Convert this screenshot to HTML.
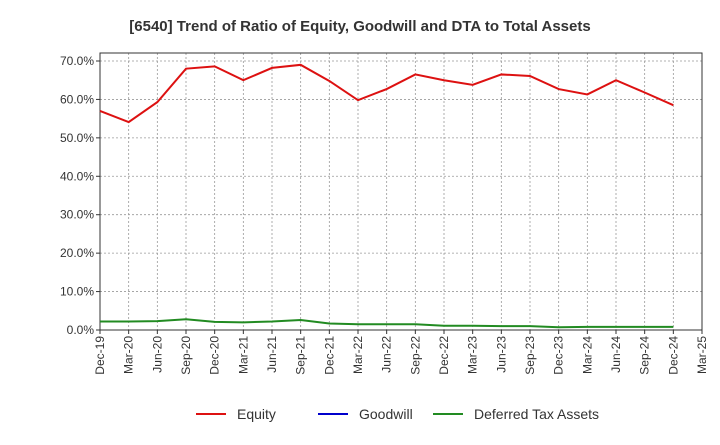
<!DOCTYPE html>
<html><head><meta charset="utf-8"><style>
body{margin:0;background:#fff;font-family:"Liberation Sans",Arial,sans-serif}
svg text{font-family:"Liberation Sans",Arial,sans-serif}
</style></head><body>
<svg id="chart" width="720" height="440" xmlns="http://www.w3.org/2000/svg">
<text x="360" y="31" text-anchor="middle" font-size="15" font-weight="bold" fill="#333">[6540]  Trend of Ratio of Equity, Goodwill and DTA to Total Assets</text>
<g id="grid"></g>
<g id="axes"></g>
<g id="series"></g>
<g id="legend"></g>
</svg>
<script>
const categories=["Dec-19","Mar-20","Jun-20","Sep-20","Dec-20","Mar-21","Jun-21","Sep-21","Dec-21","Mar-22","Jun-22","Sep-22","Dec-22","Mar-23","Jun-23","Sep-23","Dec-23","Mar-24","Jun-24","Sep-24","Dec-24","Mar-25"];
const equity=[57.0,54.1,59.3,68.0,68.6,65.0,68.2,69.0,64.8,59.8,62.7,66.5,65.0,63.8,66.5,66.1,62.7,61.3,65.0,61.8,58.5];
const goodwill=[];
const dta=[2.2,2.2,2.3,2.8,2.1,2.0,2.2,2.6,1.7,1.5,1.5,1.5,1.1,1.1,1.0,1.0,0.7,0.8,0.8,0.8,0.8];
const yTicks=[0,10,20,30,40,50,60,70];
const yTickLabels=["0.0%","10.0%","20.0%","30.0%","40.0%","50.0%","60.0%","70.0%"];
const NS="http://www.w3.org/2000/svg";
const L=100,R=702,T=53,B=330,YMAX=72.08;
const xs=i=>L+i*(R-L)/(categories.length-1);
const ys=v=>B-v/YMAX*(B-T);
function mk(tag,attrs,parent){const e=document.createElementNS(NS,tag);for(const k in attrs)e.setAttribute(k,attrs[k]);parent.appendChild(e);return e;}
const grid=document.getElementById('grid'),axes=document.getElementById('axes'),series=document.getElementById('series'),legend=document.getElementById('legend');
categories.forEach((c,i)=>{
 if(i>0&&i<categories.length-1){const g=mk('line',{x1:xs(i),x2:xs(i),y1:T,y2:B,stroke:'#999','stroke-dasharray':'2,2','stroke-width':0.8},grid);
 
 }
 const t=mk('text',{transform:`translate(${xs(i)+4},${B+6}) rotate(-90)`,'text-anchor':'end','font-size':12,fill:'#333'},axes);
 t.textContent=c;
 
 
 mk('line',{x1:xs(i),x2:xs(i),y1:B,y2:B+4,stroke:'#333'},axes);
});
yTicks.forEach((v,i)=>{
 if(v>0){const g=mk('line',{x1:L,x2:R,y1:ys(v),y2:ys(v),stroke:'#999','stroke-dasharray':'2,2','stroke-width':0.8},grid);
 
 }
 const t=mk('text',{x:L-6,y:ys(v)+4,'text-anchor':'end','font-size':12,fill:'#333'},axes);
 t.textContent=yTickLabels[i];
 
 
 mk('line',{x1:L-4,x2:L,y1:ys(v),y2:ys(v),stroke:'#333'},axes);
});
const fr=mk('rect',{x:L,y:T,width:R-L,height:B-T,fill:'none',stroke:'#333','stroke-width':1},axes);


function line(vals,color,name){if(!vals.length)return;const p=mk('polyline',{points:vals.map((v,i)=>xs(i)+','+ys(v)).join(' '),fill:'none',stroke:color,'stroke-width':2},series);
 
 }
line(goodwill,'#0000cc','goodwill-line');
line(dta,'#228b22','deferred-tax-assets-line');
line(equity,'#dd1111','equity-line');
const items=[["Equity","#dd1111",196],["Goodwill","#0000cc",318],["Deferred Tax Assets","#228b22",433]];
items.forEach(([n,c,x])=>{
 const g=mk('g',{},legend);
 
 
 mk('line',{x1:x,x2:x+30,y1:414,y2:414,stroke:c,'stroke-width':2},g);
 const t=mk('text',{x:x+41,y:419,'font-size':14,fill:'#333'},g);t.textContent=n;
});
</script>
</body></html>
